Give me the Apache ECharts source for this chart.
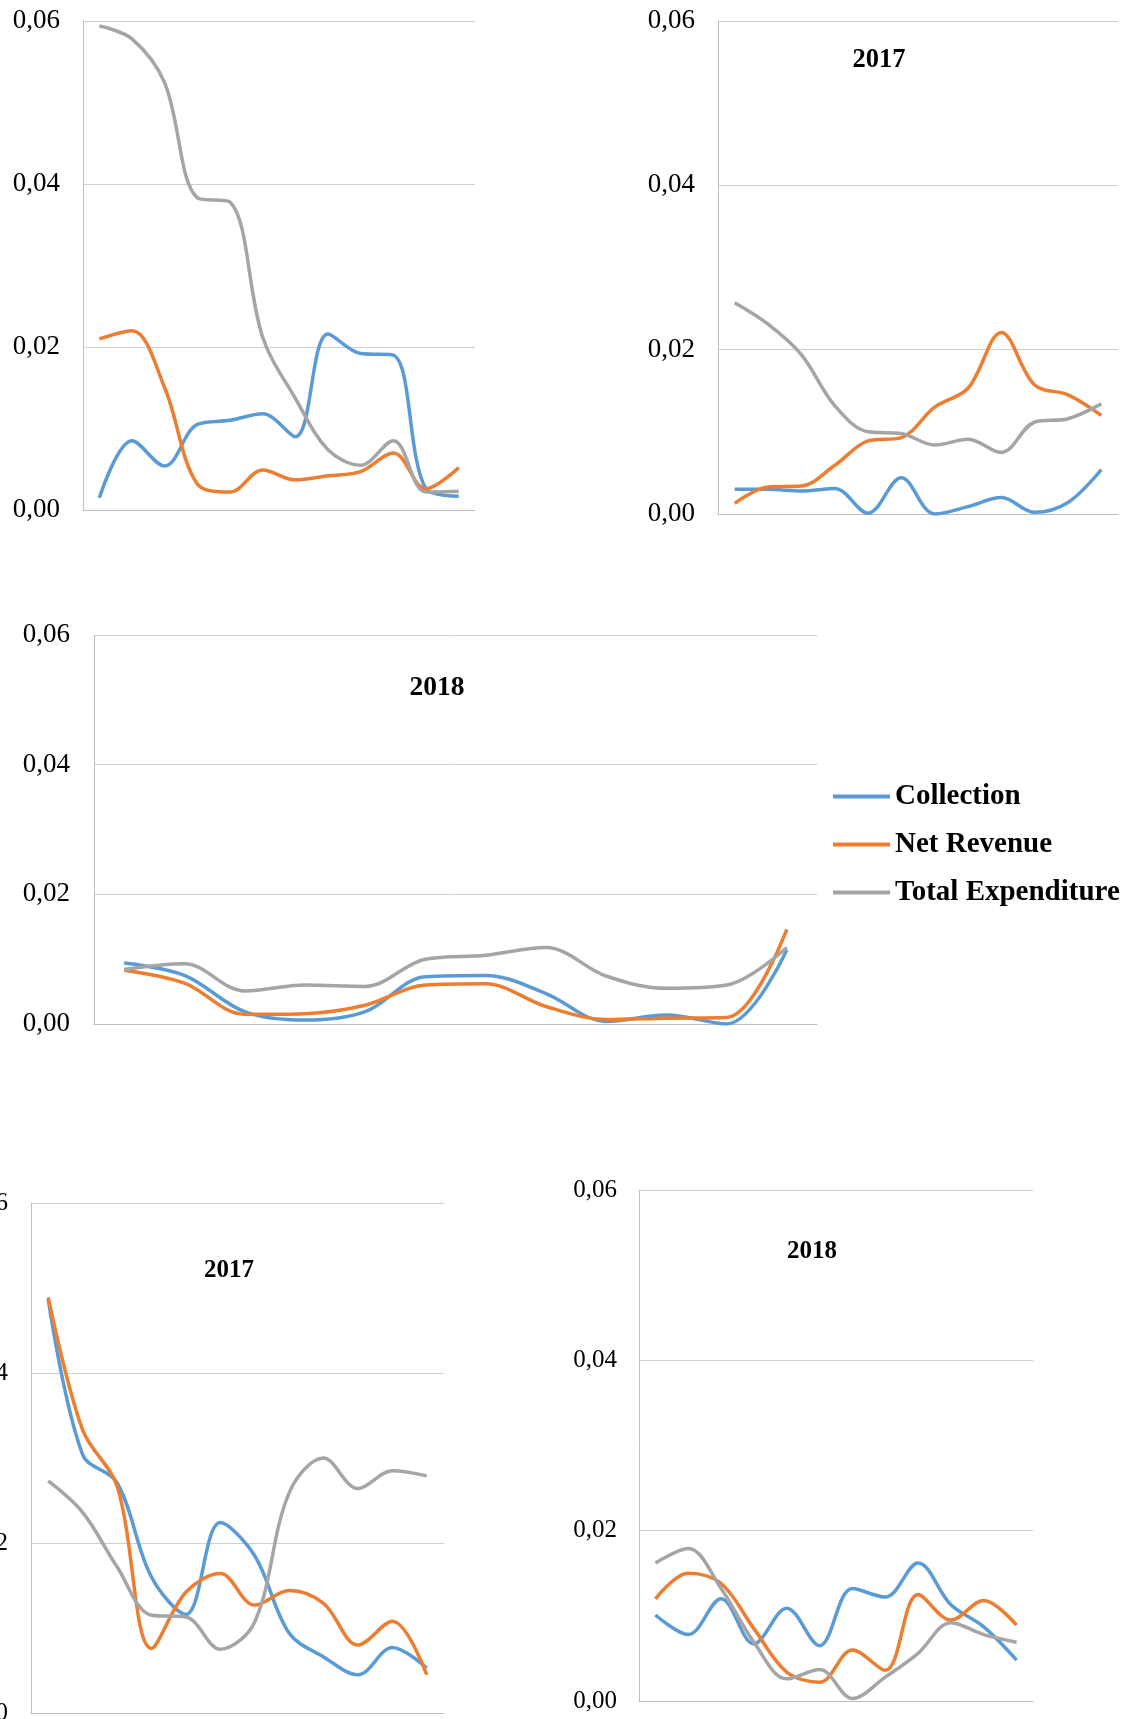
<!DOCTYPE html>
<html>
<head>
<meta charset="utf-8">
<script src="https://cdn.jsdelivr.net/npm/echarts@6/dist/echarts.min.js"></script>
<style>
html,body{margin:0;padding:0;background:#fff;}
#c{width:1129px;height:1719px;}
</style>
</head>
<body>
<div id="c"></div>
<script>
// ---- data ----
const periods = ['1','2','3','4','5','6','7','8','9','10','11','12'];
const seriesNames = ['Collection', 'Net Revenue', 'Total Expenditure'];
const tickLabels = ['0,00', '0,02', '0,04', '0,06'];
const tickValues = [0, 0.02, 0.04, 0.06];
const panelTitles = ['', '2017', '2018', '2017', '2018'];

// panel 1 (top-left)
const p1Collection = [0.0015, 0.0085, 0.0054, 0.0105, 0.011, 0.0118, 0.009, 0.0216, 0.0192, 0.019, 0.0026, 0.0017];
const p1NetRevenue = [0.021, 0.022, 0.015, 0.0032, 0.0022, 0.0049, 0.0037, 0.0042, 0.0047, 0.007, 0.0026, 0.0052];
const p1TotalExpenditure = [0.0594, 0.0578, 0.0524, 0.0383, 0.0378, 0.0212, 0.0137, 0.0074, 0.0055, 0.0085, 0.0022, 0.0023];

// panel 2 (top-right, 2017)
const p2Collection = [0.003, 0.003, 0.0028, 0.0031, 0.0001, 0.0044, 0.0, 0.0009, 0.002, 0.0002, 0.0014, 0.0054];
const p2NetRevenue = [0.0013, 0.0033, 0.0034, 0.0059, 0.0089, 0.0093, 0.013, 0.0153, 0.0221, 0.0157, 0.0145, 0.012];
const p2TotalExpenditure = [0.0257, 0.0231, 0.0194, 0.0132, 0.010, 0.0098, 0.0084, 0.0091, 0.0075, 0.0112, 0.0116, 0.0134];

// panel 3 (middle, 2018)
const p3Collection = [0.0094, 0.0075, 0.0019, 0.0006, 0.0019, 0.0073, 0.0075, 0.0047, 0.0004, 0.0014, 0.0, 0.0114];
const p3NetRevenue = [0.0083, 0.0063, 0.0015, 0.0016, 0.0029, 0.006, 0.0062, 0.0027, 0.0007, 0.0009, 0.001, 0.0146];
const p3TotalExpenditure = [0.0084, 0.0093, 0.0051, 0.006, 0.0058, 0.010, 0.0106, 0.0118, 0.0074, 0.0055, 0.006, 0.0118];

// panel 4 (bottom-left, 2017)
const p4Collection = [0.0487, 0.0304, 0.0271, 0.016, 0.0116, 0.0224, 0.0185, 0.0094, 0.0066, 0.0045, 0.0077, 0.0053];
const p4NetRevenue = [0.0489, 0.0333, 0.0267, 0.0076, 0.0142, 0.0164, 0.0127, 0.0144, 0.0129, 0.008, 0.0108, 0.0045];
const p4TotalExpenditure = [0.0273, 0.0236, 0.0172, 0.0115, 0.0113, 0.0075, 0.0107, 0.0259, 0.030, 0.0264, 0.0285, 0.0279];

// panel 5 (bottom-right, 2018)
const p5Collection = [0.0101, 0.0078, 0.012, 0.0067, 0.0109, 0.0065, 0.0132, 0.0122, 0.0162, 0.0113, 0.0087, 0.0048];
const p5NetRevenue = [0.012, 0.015, 0.0138, 0.0085, 0.0034, 0.0022, 0.006, 0.0036, 0.0125, 0.0095, 0.0118, 0.0089];
const p5TotalExpenditure = [0.0162, 0.0179, 0.0132, 0.0069, 0.0026, 0.0037, 0.0003, 0.0028, 0.0056, 0.0092, 0.0078, 0.0069];

const panelData = [
  [p1Collection, p1NetRevenue, p1TotalExpenditure],
  [p2Collection, p2NetRevenue, p2TotalExpenditure],
  [p3Collection, p3NetRevenue, p3TotalExpenditure],
  [p4Collection, p4NetRevenue, p4TotalExpenditure],
  [p5Collection, p5NetRevenue, p5TotalExpenditure]
];

// ---- layout ----
const colors = ['#5B9BD5', '#ED7D31', '#A5A5A5'];
const FONT = "'Liberation Serif', 'Times New Roman', serif";
const grids = [
  {left: 83, top: 21, width: 392, height: 489},
  {left: 718, top: 21, width: 400, height: 493},
  {left: 94, top: 635, width: 723, height: 389},
  {left: 31, top: 1203, width: 413, height: 510},
  {left: 639, top: 1190, width: 394, height: 511}
].map(g => Object.assign({containLabel: false, outerBoundsMode: 'none'}, g));
const labelSizes = [27, 27, 27, 25, 25];
const labelMargins = [23, 23, 24, 23, 22];
const titlePos = [null, [879, 60], [437, 688], [229, 1271], [812, 1252]];
const titleSizes = [0, 26.5, 27.5, 25, 25];

const xAxes = [], yAxes = [], series = [], titles = [];
grids.forEach((g, i) => {
  xAxes.push({
    type: 'category', gridIndex: i, data: periods, boundaryGap: true,
    axisLine: {show: true, lineStyle: {color: '#bfbfbf', width: 1}},
    axisTick: {show: false}, axisLabel: {show: false}, splitLine: {show: false}
  });
  yAxes.push({
    type: 'value', gridIndex: i, min: 0, max: 0.06, interval: 0.02,
    axisLine: {show: true, lineStyle: {color: '#bfbfbf', width: 1}},
    axisTick: {show: false},
    splitLine: {show: true, lineStyle: {color: '#cfcfcf', width: 1}},
    axisLabel: {
      margin: labelMargins[i], color: '#000', fontSize: labelSizes[i], fontFamily: FONT,
      formatter: v => {
        const k = tickValues.findIndex(t => Math.abs(t - v) < 1e-9);
        return k >= 0 ? tickLabels[k] : '';
      }
    }
  });
  panelData[i].forEach((arr, s) => {
    series.push({
      name: seriesNames[s], type: 'line', xAxisIndex: i, yAxisIndex: i,
      data: arr, smooth: 0.35, showSymbol: false, symbol: 'none',
      lineStyle: {color: colors[s], width: 3.5}, itemStyle: {color: colors[s]},
      z: 2 + s
    });
  });
  if (titlePos[i]) {
    titles.push({
      text: panelTitles[i], left: titlePos[i][0], top: titlePos[i][1],
      textAlign: 'center', textVerticalAlign: 'middle', padding: 0,
      textStyle: {fontFamily: FONT, fontWeight: 'bold', fontSize: titleSizes[i], color: '#000'}
    });
  }
});

const chart = echarts.init(document.getElementById('c'), null, {renderer: 'canvas'});
chart.setOption({
  animation: false,
  backgroundColor: '#fff',
  title: titles,
  legend: {
    orient: 'vertical', left: 833, top: 782, padding: 0,
    itemWidth: 57, itemHeight: 4, itemGap: 19, icon: 'rect',
    data: seriesNames,
    textStyle: {fontFamily: FONT, fontWeight: 'bold', fontSize: 29, color: '#000'}
  },
  grid: grids,
  xAxis: xAxes,
  yAxis: yAxes,
  series: series
});
</script>
</body>
</html>
